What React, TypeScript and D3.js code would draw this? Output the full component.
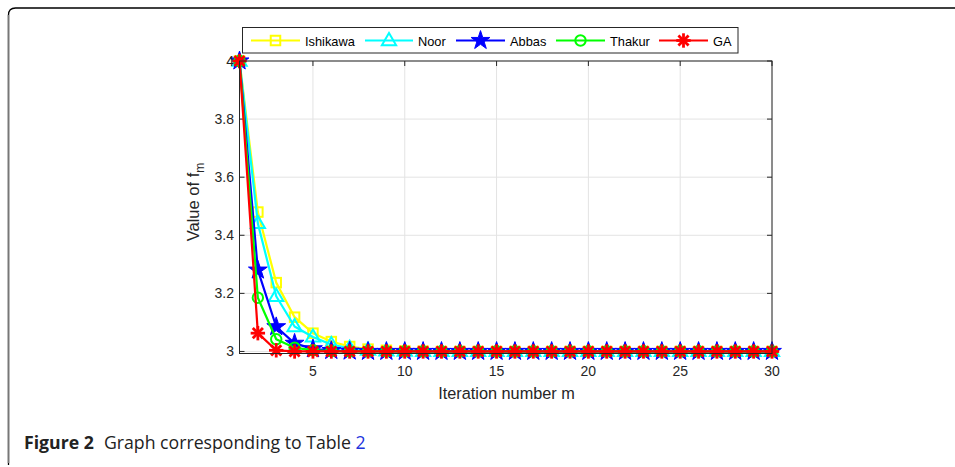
import React from "react";
import * as d3 from "d3";

const iterations = d3.range(1, 31);
const ishikawa = [4.0, 3.48, 3.237, 3.118, 3.063, 3.034, 3.017, 3.008, 3.004, 3.002, 3.001, 3, 3, 3, 3, 3, 3, 3, 3, 3, 3, 3, 3, 3, 3, 3, 3, 3, 3, 3];
const noor = [4.0, 3.441, 3.19, 3.086, 3.05, 3.024, 3.011, 3.005, 3.002, 3.001, 3, 3, 3, 3, 3, 3, 3, 3, 3, 3, 3, 3, 3, 3, 3, 3, 3, 3, 3, 3];
const abbas = [4.0, 3.28, 3.085, 3.028, 3.009, 3.003, 3.001, 3, 3, 3, 3, 3, 3, 3, 3, 3, 3, 3, 3, 3, 3, 3, 3, 3, 3, 3, 3, 3, 3, 3];
const thakur = [4.0, 3.185, 3.042, 3.013, 3.004, 3.001, 3, 3, 3, 3, 3, 3, 3, 3, 3, 3, 3, 3, 3, 3, 3, 3, 3, 3, 3, 3, 3, 3, 3, 3];
const ga = [4.0, 3.063, 3.004, 3.0, 3, 3, 3, 3, 3, 3, 3, 3, 3, 3, 3, 3, 3, 3, 3, 3, 3, 3, 3, 3, 3, 3, 3, 3, 3, 3];

const seriesNames = ["Ishikawa", "Noor", "Abbas", "Thakur", "GA"];
const seriesColors = ["#ffff00", "#00ffff", "#0000ff", "#00ff00", "#ff0000"];
const seriesMarkers = ["square", "triangle", "star", "circle", "asterisk"];
const seriesValues = [ishikawa, noor, abbas, thakur, ga];

const xTicks = [5, 10, 15, 20, 25, 30];
const yTicks = [3, 3.2, 3.4, 3.6, 3.8, 4];

const FONT = "'Liberation Sans', Arial, Helvetica, sans-serif";

function Marker({ type, x, y, color }: { type: string; x: number; y: number; color: string }) {
  if (type === "square") {
    const s = 9.5;
    return <rect x={x - s / 2} y={y - s / 2} width={s} height={s} fill="none" stroke={color} strokeWidth={2} />;
  }
  if (type === "triangle") {
    const r = 7.5;
    const pts = [
      [x, y - r],
      [x + r * 0.95, y + r * 0.62],
      [x - r * 0.95, y + r * 0.62],
    ];
    return <polygon points={pts.map((p) => p.join(",")).join(" ")} fill="none" stroke={color} strokeWidth={2} />;
  }
  if (type === "star") {
    const path = d3.symbol(d3.symbolStar, 110)();
    return <path d={path || ""} transform={`translate(${x},${y})`} fill={color} stroke={color} strokeWidth={1} />;
  }
  if (type === "circle") {
    return <circle cx={x} cy={y} r={5.2} fill="none" stroke={color} strokeWidth={2} />;
  }
  // asterisk
  const r = 7.2;
  const lines = [0, 45, 90, 135].map((a) => {
    const rad = (a * Math.PI) / 180;
    return (
      <line
        key={a}
        x1={x - r * Math.cos(rad)}
        y1={y - r * Math.sin(rad)}
        x2={x + r * Math.cos(rad)}
        y2={y + r * Math.sin(rad)}
        stroke={color}
        strokeWidth={2.8}
      />
    );
  });
  return <g>{lines}</g>;
}

export default function App() {
  const width = 955;
  const height = 467;
  const x = d3.scaleLinear().domain([1, 30]).range([239.5, 772]);
  const y = d3.scaleLinear().domain([2.993, 4]).range([353.5, 61]);
  const left = x(1);
  const right = x(30);
  const top = y(4);
  const bottom = y(2.993);

  const line = d3
    .line<number>()
    .x((_, i) => x(iterations[i]))
    .y((d) => y(d));

  const legendItems = [
    { lx1: 251, lx2: 300, tx: 305 },
    { lx1: 365, lx2: 413, tx: 418 },
    { lx1: 456, lx2: 505, tx: 510 },
    { lx1: 556, lx2: 605, tx: 610 },
    { lx1: 659, lx2: 708, tx: 713 },
  ];
  const legY = 40.5;

  return (
    <svg
      width={width}
      height={height}
      style={{ position: "absolute", left: 0, top: 0, background: "#fff" }}
      fontFamily={FONT}
    >
      {/* frame */}
      <path d={`M 8.5 ${height - 2} L 8.5 15 Q 8.5 8 15.5 8 L ${width} 8`} fill="none" stroke="#000" strokeWidth={1.3} />
      <line x1={8.5} y1={15} x2={8.5} y2={height - 4} stroke="#777" strokeWidth={1.6} />

      {/* grid */}
      <g stroke="#e3e3e3" strokeWidth={1}>
        {xTicks.map((t) => (
          <line key={"gx" + t} x1={x(t)} x2={x(t)} y1={top} y2={bottom} />
        ))}
        {yTicks.map((t) => (
          <line key={"gy" + t} x1={left} x2={right} y1={y(t)} y2={y(t)} />
        ))}
      </g>

      {/* ticks */}
      <g stroke="#262626" strokeWidth={1}>
        {xTicks.map((t) => (
          <g key={"tx" + t}>
            <line x1={x(t)} x2={x(t)} y1={bottom} y2={bottom - 5} />
            <line x1={x(t)} x2={x(t)} y1={top} y2={top + 5} />
          </g>
        ))}
        {yTicks.map((t) => (
          <g key={"ty" + t}>
            <line x1={left} x2={left + 5} y1={y(t)} y2={y(t)} />
            <line x1={right} x2={right - 5} y1={y(t)} y2={y(t)} />
          </g>
        ))}
      </g>

      {/* series */}
      {seriesValues.map((vals, si) => (
        <g key={seriesNames[si]}>
          <path d={line(vals) || ""} fill="none" stroke={seriesColors[si]} strokeWidth={2.2} strokeLinejoin="round" />
          {vals.map((v, i) => (
            <Marker key={i} type={seriesMarkers[si]} x={x(iterations[i])} y={y(v)} color={seriesColors[si]} />
          ))}
        </g>
      ))}

      {/* axes box */}
      <rect x={left} y={top} width={right - left} height={bottom - top} fill="none" stroke="#262626" strokeWidth={1} />

      {/* tick labels */}
      <g fontSize={14} fill="#262626">
        {xTicks.map((t) => (
          <text key={"lx" + t} x={x(t)} y={376} textAnchor="middle">
            {t}
          </text>
        ))}
        {yTicks.map((t) => (
          <text key={"ly" + t} x={234} y={y(t) + 5} textAnchor="end">
            {t}
          </text>
        ))}
      </g>

      {/* axis labels */}
      <text x={506.5} y={399} textAnchor="middle" fontSize={16.3} fill="#262626">
        Iteration number m
      </text>
      <text transform={`translate(198.5,202) rotate(-90)`} textAnchor="middle" fontSize={16.5} fill="#262626">
        Value of f<tspan fontSize={12} dy={5}>m</tspan>
      </text>

      {/* legend */}
      <rect x={242.5} y={27.5} width={495.5} height={25.5} fill="#fff" stroke="#262626" strokeWidth={1} />
      {legendItems.map((it, i) => (
        <g key={"leg" + i}>
          <line x1={it.lx1} x2={it.lx2} y1={legY} y2={legY} stroke={seriesColors[i]} strokeWidth={2.2} />
          <Marker type={seriesMarkers[i]} x={(it.lx1 + it.lx2) / 2} y={legY} color={seriesColors[i]} />
          <text x={it.tx} y={legY + 5} fontSize={12.8} fill="#000">
            {seriesNames[i]}
          </text>
        </g>
      ))}

      {/* caption */}
      <text x={24} y={449} fontSize={17.7} fontFamily="'Open Sans', 'Noto Sans', sans-serif" fill="#222">
        <tspan fontWeight="bold">Figure 2</tspan>
        <tspan dx={10}>Graph corresponding to Table </tspan>
        <tspan fill="#2233dd">2</tspan>
      </text>
    </svg>
  );
}
